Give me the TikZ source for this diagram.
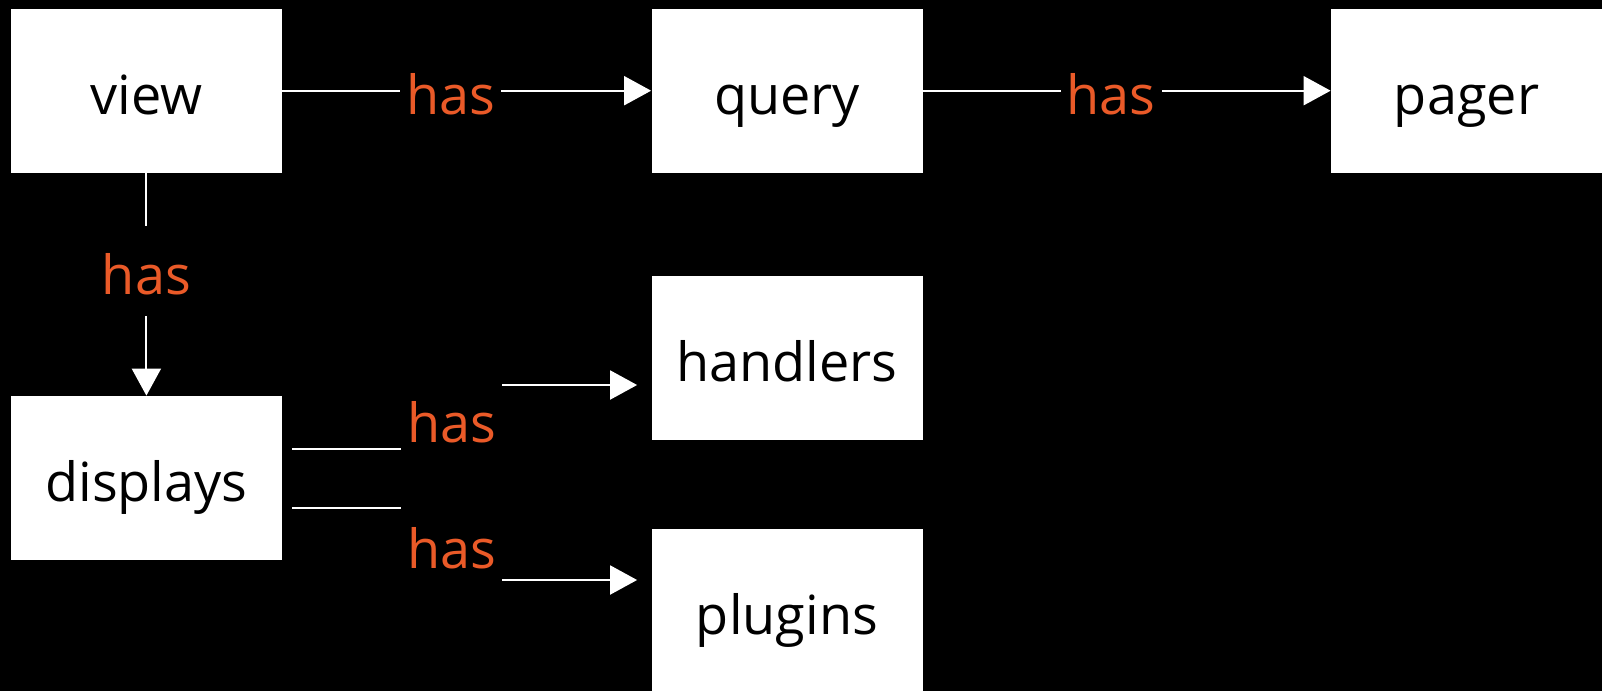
\documentclass[tikz,border=0pt]{standalone}
\usepackage{fontspec}
\setmainfont{Open Sans}
\usetikzlibrary{arrows.meta,calc}
\definecolor{hasorange}{RGB}{234,90,40}
\tikzset{
  entity/.style={fill=white,text=black,minimum width=135.5pt,minimum height=82pt,
    inner sep=0pt,text height=28pt,text depth=4.5pt,font=\fontsize{27}{33}\selectfont},
  rel/.style={fill=black,text=hasorange,inner xsep=3pt,inner ysep=6.25pt,
    text height=28pt,text depth=4.5pt,font=\fontsize{27}{33}\selectfont},
  link/.style={draw=white,line width=1pt},
  hasarrow/.style={link,-{Triangle[length=13.5pt,width=14.5pt]}}
}
\begin{document}
\begin{tikzpicture}[x=0.5pt,y=-0.5pt]
  \useasboundingbox (0,0) rectangle (1602,691);
  \fill[black] (0,0) rectangle (1602,691);
  % boxes
  \node[entity] (view)     at (146.4,90.7) {view};
  \node[entity] (query)    at (787,90.7)   {query};
  \node[entity] (pager)    at (1466.5,90.7) {pager};
  \node[entity] (handlers) at (787,357.5)  {handlers};
  \node[entity] (displays) at (146.4,478)  {displays};
  \node[entity] (plugins)  at (787,611)    {plugins};
  % top row and down
  \draw[hasarrow] (view) -- node[rel,pos=.457] {has} (query);
  \draw[hasarrow] (query) -- node[rel,pos=.462] {has} (pager);
  \draw[hasarrow] (view) -- node[rel,pos=.44] {has} (displays);
  % displays to handlers and plugins
  \node[rel] (hasA) at (451.5,418.5) {has};
  \node[rel] (hasB) at (451.5,544.5) {has};
  \coordinate (d1) at ([xshift=5pt,yshift=14.5pt]displays.east);
  \coordinate (d2) at ([xshift=5pt,yshift=-15pt]displays.east);
  \coordinate (h1) at ([xshift=-7pt,yshift=-13.75pt]handlers.west);
  \coordinate (p1) at ([xshift=-7pt,yshift=15.5pt]plugins.west);
  \draw[link] (d1) -- (hasA.west |- d1);
  \draw[hasarrow] (hasA.east |- h1) -- (h1);
  \draw[link] (d2) -- (hasB.west |- d2);
  \draw[hasarrow] (hasB.east |- p1) -- (p1);
\end{tikzpicture}
\end{document}
